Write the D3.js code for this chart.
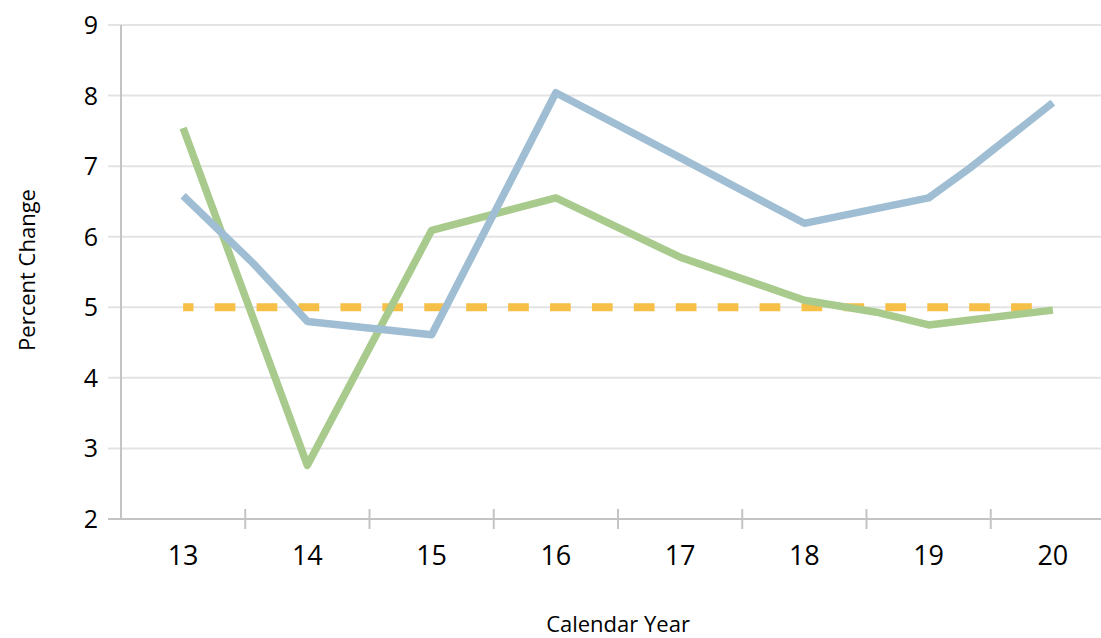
<!DOCTYPE html>
<html>
<head>
<meta charset="utf-8">
<script src="https://cdn.jsdelivr.net/npm/d3@7"></script>
<style>
  html, body { margin: 0; padding: 0; background: #fff; }
  svg { display: block; font-family: "Open Sans", "Noto Sans", sans-serif; }
</style>
</head>
<body>
<svg id="chart" width="1101" height="638"></svg>
<script>
// Calendar years shown on the category axis
const years = [13, 14, 15, 16, 17, 18, 19, 20];
const yTicks = [2, 3, 4, 5, 6, 7, 8, 9];

// Series as [year position, percent change]; a few in-between vertices carry the line's bends
const blueSeries = [
  [13, 6.58], [13.56, 5.63], [14, 4.8], [15, 4.61], [16, 8.04],
  [17, 7.12], [18, 6.19], [19, 6.55], [19.33, 6.97], [20, 7.9]
];
const greenSeries = [
  [13, 7.54], [14, 2.76], [15, 6.09], [16, 6.55], [17, 5.71],
  [18, 5.1], [18.58, 4.93], [19, 4.75], [20, 4.96]
];
const targetLevel = 5;

const svg = d3.select("#chart");
const plotLeft = 121, plotRight = 1115, plotTop = 25, plotBottom = 519;

const x = d3.scaleLinear().domain([12.5, 20.5]).range([plotLeft, plotRight]);
const y = d3.scaleLinear().domain([2, 9]).range([plotBottom, plotTop]);
const step = x(14) - x(13);

// Horizontal gridlines
svg.append("g")
  .selectAll("line")
  .data(yTicks.filter(d => d !== 2))
  .join("line")
  .attr("x1", plotLeft - 13).attr("x2", plotRight)
  .attr("y1", d => y(d)).attr("y2", d => y(d))
  .attr("stroke", "#e3e3e3").attr("stroke-width", 2);

// Y tick labels
svg.append("g")
  .selectAll("text")
  .data(yTicks)
  .join("text")
  .attr("x", 98).attr("y", d => y(d))
  .attr("dy", "0.36em")
  .attr("text-anchor", "end")
  .attr("font-size", 25)
  .attr("fill", "#000")
  .text(d => d);

// Value axis line
svg.append("line")
  .attr("x1", plotLeft).attr("x2", plotLeft)
  .attr("y1", plotTop).attr("y2", plotBottom)
  .attr("stroke", "#c4c4c4").attr("stroke-width", 2);

// Category axis line with boundary ticks between years
svg.append("line")
  .attr("x1", plotLeft - 13).attr("x2", plotRight)
  .attr("y1", plotBottom).attr("y2", plotBottom)
  .attr("stroke", "#c4c4c4").attr("stroke-width", 2);

svg.append("g")
  .selectAll("line")
  .data(years.slice(1))
  .join("line")
  .attr("x1", d => x(d - 0.5)).attr("x2", d => x(d - 0.5))
  .attr("y1", plotBottom - 10).attr("y2", plotBottom + 10)
  .attr("stroke", "#c4c4c4").attr("stroke-width", 2);

// Year labels
svg.append("g")
  .selectAll("text")
  .data(years)
  .join("text")
  .attr("x", d => x(d)).attr("y", 565)
  .attr("text-anchor", "middle")
  .attr("font-size", 27)
  .attr("fill", "#000")
  .text(d => d);

// Dashed reference level
svg.append("line")
  .attr("x1", x(years[0])).attr("x2", x(years[years.length - 1]))
  .attr("y1", y(targetLevel)).attr("y2", y(targetLevel))
  .attr("stroke", "#f6bf47").attr("stroke-width", 8)
  .attr("stroke-dasharray", `${step / 6} ${step / 6 + 0.5}`)
  .attr("stroke-dashoffset", step / 12);

const line = d3.line().x(d => x(d[0])).y(d => y(d[1]));

svg.append("path")
  .datum(greenSeries)
  .attr("d", line)
  .attr("fill", "none")
  .attr("stroke", "#a8cb8d")
  .attr("stroke-width", 7.5)
  .attr("stroke-linejoin", "round");

svg.append("path")
  .datum(blueSeries)
  .attr("d", line)
  .attr("fill", "none")
  .attr("stroke", "#a0bed3")
  .attr("stroke-width", 7.5)
  .attr("stroke-linejoin", "round");

// Axis titles
svg.append("text")
  .attr("transform", "translate(35,270) rotate(-90)")
  .attr("text-anchor", "middle")
  .attr("font-size", 22)
  .attr("fill", "#000")
  .text("Percent Change");

svg.append("text")
  .attr("x", (plotLeft + plotRight) / 2).attr("y", 632)
  .attr("text-anchor", "middle")
  .attr("font-size", 22)
  .attr("fill", "#000")
  .text("Calendar Year");
</script>
</body>
</html>
